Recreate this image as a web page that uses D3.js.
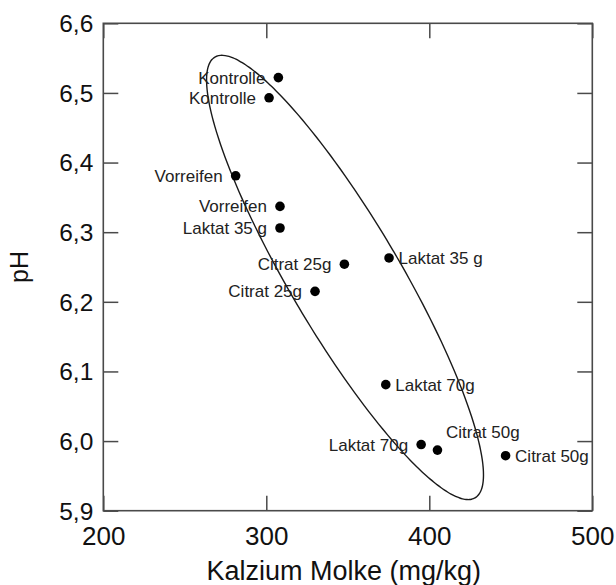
<!DOCTYPE html>
<html>
<head>
<meta charset="utf-8">
<script src="https://cdn.jsdelivr.net/npm/d3@7"></script>
<style>
    html, body { margin: 0; padding: 0; background: #fff; }
    svg { display: block; }
</style>
</head>
<body>
<svg id="chart"></svg>
<script>
// Kalzium in der Molke vs. pH, je Variante zwei Chargen
const calcium = [307.4, 301.7, 281.2, 308.4, 308.4, 375.3, 347.9, 329.9, 373.3, 395.0, 405.0, 446.8];
const ph      = [6.522, 6.493, 6.381, 6.337, 6.306, 6.263, 6.254, 6.215, 6.081, 5.995, 5.987, 5.979];
const labels  = ['Kontrolle', 'Kontrolle', 'Vorreifen', 'Vorreifen', 'Laktat 35 g', 'Laktat 35 g',
                 'Citrat 25g', 'Citrat 25g', 'Laktat 70g', 'Laktat 70g', 'Citrat 50g', 'Citrat 50g'];
const labelSide = ['left', 'left', 'left', 'left', 'left', 'right',
                   'left', 'left', 'right', 'left', 'above', 'right'];

const xTicks = [200, 300, 400, 500];
const yTicks = [5.9, 6.0, 6.1, 6.2, 6.3, 6.4, 6.5, 6.6];

// Ellipse (data units): centre plus two conjugate semi-axes
const ellipseCenter = [348.3, 6.235];
const ellipseAxisA = [79.8, -0.3165];
const ellipseAxisB = [29.1, 0.0401];

const width = 616, height = 585;
const margin = { left: 103.3, right: 616 - 592.3, top: 23.3, bottom: 585 - 510.7 };
const tickLen = 15;
const font = 'Arial, "Liberation Sans", Helvetica, sans-serif';

const svg = d3.select('#chart').attr('width', width).attr('height', height);

const x = d3.scaleLinear().domain([200, 500]).range([margin.left, width - margin.right]);
const y = d3.scaleLinear().domain([5.9, 6.6]).range([height - margin.bottom, margin.top]);

const x0 = x.range()[0], x1 = x.range()[1];
const y0 = y.range()[0], y1 = y.range()[1];
const frameColor = '#4a4a4a';

// Axes, ticks pointing inward on all four sides
const fmt = d => d3.format('.1f')(d).replace('.', ',');

svg.append('g').attr('transform', `translate(0,${y0})`)
    .call(d3.axisBottom(x).tickValues(xTicks).tickSize(-tickLen).tickPadding(16).tickFormat(d3.format('d')))
    .call(g => g.selectAll('text').attr('font-size', '26px').attr('fill', '#111'));
svg.append('g').attr('transform', `translate(0,${y1})`)
    .call(d3.axisTop(x).tickValues(xTicks).tickSize(-tickLen).tickFormat(''));
svg.append('g').attr('transform', `translate(${x0},0)`)
    .call(d3.axisLeft(y).tickValues(yTicks).tickSize(-tickLen).tickPadding(10).tickFormat(fmt))
    .call(g => g.selectAll('text').attr('font-size', '24.5px').attr('fill', '#111').attr('dy', '0.34em'));
svg.append('g').attr('transform', `translate(${x1},0)`)
    .call(d3.axisRight(y).tickValues(yTicks).tickSize(-tickLen).tickFormat(''));

svg.selectAll('.domain').remove();
svg.selectAll('.tick line').attr('stroke', frameColor).attr('stroke-width', 1.5);
svg.selectAll('.tick text').attr('font-family', font);

svg.append('rect')
    .attr('x', x0).attr('y', y1)
    .attr('width', x1 - x0).attr('height', y0 - y1)
    .attr('fill', 'none')
    .attr('stroke', frameColor)
    .attr('stroke-width', 1.6);

// Axis titles
svg.append('text')
    .attr('x', (x0 + x1) / 2 - 4).attr('y', 580)
    .attr('text-anchor', 'middle')
    .attr('font-family', font).attr('font-size', '27px').attr('fill', '#111')
    .text('Kalzium Molke (mg/kg)');

svg.append('text')
    .attr('transform', `translate(28,${(y0 + y1) / 2}) rotate(-90)`)
    .attr('text-anchor', 'middle')
    .attr('font-family', font).attr('font-size', '25px').attr('fill', '#111')
    .text('pH');

// Ellipse
const ellipsePts = d3.range(0, 361, 2).map(deg => {
    const t = deg * Math.PI / 180;
    return [
        ellipseCenter[0] + ellipseAxisA[0] * Math.cos(t) + ellipseAxisB[0] * Math.sin(t),
        ellipseCenter[1] + ellipseAxisA[1] * Math.cos(t) + ellipseAxisB[1] * Math.sin(t)
    ];
});
svg.append('path')
    .datum(ellipsePts)
    .attr('d', d3.line().x(d => x(d[0])).y(d => y(d[1])).curve(d3.curveCardinalClosed))
    .attr('fill', 'none')
    .attr('stroke', '#1a1a1a')
    .attr('stroke-width', 1.4);

// Points
const data = calcium.map((c, i) => ({ c: c, ph: ph[i], label: labels[i], side: labelSide[i] }));

svg.append('g').selectAll('circle')
    .data(data).enter().append('circle')
    .attr('cx', d => x(d.c))
    .attr('cy', d => y(d.ph))
    .attr('r', 4.8)
    .attr('fill', '#000');

svg.append('g').selectAll('text')
    .data(data).enter().append('text')
    .attr('x', d => x(d.c) + (d.side === 'left' ? -13 : d.side === 'above' ? 8.5 : 9.5))
    .attr('y', d => y(d.ph) + (d.side === 'above' ? -18 : 0))
    .attr('dy', '0.35em')
    .attr('text-anchor', d => d.side === 'left' ? 'end' : 'start')
    .attr('font-family', font)
    .attr('font-size', '17px')
    .attr('fill', '#222')
    .text(d => d.label);
</script>
</body>
</html>
